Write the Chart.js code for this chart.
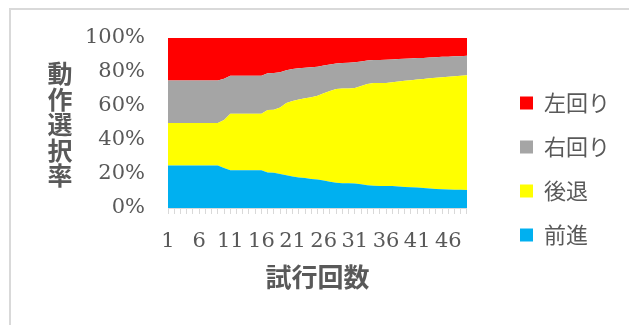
<!DOCTYPE html>
<html>
<head>
<meta charset="utf-8">
<script src="https://cdn.jsdelivr.net/npm/chart.js@4.4.1/dist/chart.umd.min.js"></script>
<style>
  html, body { margin: 0; padding: 0; background: #ffffff; }
  body { width: 629px; height: 325px; position: relative; overflow: hidden; }
  #frame { position: absolute; left: 9px; top: 8px; width: 700px; height: 400px;
           border-left: 2px solid #d9d9d9; border-top: 2px solid #d9d9d9; }
  #wrap { position: absolute; left: 0; top: 0; width: 629px; height: 325px; }
  #ytitle { position: absolute; left: 47px; top: 61px; writing-mode: vertical-rl;
            text-orientation: upright; font-family: 'Noto Sans CJK JP', sans-serif;
            font-weight: bold; font-size: 25px; line-height: 26px; letter-spacing: 0.5px;
            color: #595959; }
</style>
</head>
<body>
<div id="frame"></div>
<div id="wrap"><canvas id="chart" width="629" height="325"></canvas></div>
<div id="ytitle">動作選択率</div>
<script>
// 試行回数 (categories)
const trials = ['1','2','3','4','5','6','7','8','9','10','11','12','13','14','15','16','17','18','19','20',
  '21','22','23','24','25','26','27','28','29','30','31','32','33','34','35','36','37','38','39','40',
  '41','42','43','44','45','46','47','48','49'];

// axis labels shown under the category axis
const shownTrials = ['1','6','11','16','21','26','31','36','41','46'];
const percentTicks = [0, 20, 40, 60, 80, 100];

// selection rate of each action per trial (%)
const forward = [25,25,25,25,25,25,25,25,25,23.6,22.2,22.2,22.2,22.2,22.2,22.2,20.9,20.8,20.0,19.2,
  18.6,18.0,17.6,17.1,16.7,16.2,15.4,14.8,14.6,14.6,14.4,13.9,13.4,13.1,13.0,13.0,12.9,12.6,12.4,12.2,
  12.0,11.7,11.5,11.2,11.0,10.9,10.8,10.7,10.6];
const backward = [25,25,25,25,25,25,25,25,25,28.2,33.3,33.3,33.3,33.3,33.3,33.3,36.8,37.0,39.1,42.5,
  44.4,45.8,46.9,48.0,49.3,51.3,53.4,55.2,55.7,55.7,56.2,57.9,59.6,60.4,60.5,60.6,61.0,61.8,62.5,63.0,
  63.6,64.2,64.8,65.4,65.9,66.3,66.7,67.1,67.5];
const turnRight = [25,25,25,25,25,25,25,25,25,24.3,22.3,22.3,22.3,22.3,22.3,22.3,21.6,21.6,20.8,19.3,
  18.8,18.4,18.0,17.7,17.1,16.3,15.6,15.0,15.0,15.2,15.1,14.4,13.8,13.5,13.6,13.6,13.5,13.2,12.9,12.8,
  12.6,12.4,12.2,12.1,12.0,11.8,11.7,11.5,11.4];
const turnLeft = [25,25,25,25,25,25,25,25,25,23.9,22.2,22.2,22.2,22.2,22.2,22.2,20.7,20.6,20.1,19.0,
  18.2,17.8,17.5,17.2,16.9,16.2,15.6,15.0,14.7,14.5,14.3,13.8,13.2,13.0,12.9,12.8,12.6,12.4,12.2,12.0,
  11.8,11.7,11.5,11.3,11.1,11.0,10.8,10.7,10.5];

// 100% stacking: each column is scaled to its own total
const totals = trials.map((_, i) => forward[i] + backward[i] + turnRight[i] + turnLeft[i]);
const share = arr => arr.map((v, i) => v / totals[i] * 100);

const serif = 'DejaVu Serif';
const cjk = 'Noto Sans CJK JP';
const textColor = '#595959';

function area(label, values, color, fill) {
  return {
    label: label,
    data: share(values),
    backgroundColor: color,
    borderColor: color,
    borderWidth: 0,
    pointRadius: 0,
    pointHoverRadius: 0,
    tension: 0,
    fill: fill
  };
}

new Chart(document.getElementById('chart'), {
  type: 'line',
  data: {
    labels: trials,
    datasets: [
      area('前進', forward, '#00B0F0', 'origin'),
      area('後退', backward, '#FFFF00', '-1'),
      area('右回り', turnRight, '#A5A5A5', '-1'),
      area('左回り', turnLeft, '#FF0000', '-1')
    ]
  },
  options: {
    responsive: false,
    animation: false,
    devicePixelRatio: 1,
    layout: { padding: { left: 80, top: 38, right: 9, bottom: 25 } },
    plugins: {
      tooltip: { enabled: false },
      legend: {
        position: 'right',
        reverse: true,
        maxWidth: 140,
        labels: {
          boxWidth: 13,
          boxHeight: 13,
          padding: 22,
          color: textColor,
          font: { family: cjk, size: 22 }
        }
      }
    },
    scales: {
      x: {
        type: 'category',
        offset: false,
        grid: { display: true, drawOnChartArea: false, drawTicks: true, tickLength: 6, color: '#d9d9d9' },
        border: { display: true, color: '#d9d9d9' },
        ticks: {
          autoSkip: false,
          maxRotation: 0,
          minRotation: 0,
          padding: 15,
          color: textColor,
          font: { family: serif, size: 21 },
          callback: function (value) {
            const lab = this.getLabelForValue(value);
            return shownTrials.includes(lab) ? lab : '';
          }
        },
        title: {
          display: true,
          text: '試行回数',
          color: textColor,
          font: { family: cjk, size: 26, weight: 'bold' },
          padding: { top: 0, bottom: 7 }
        },
        afterFit: function (axis) { axis.height = 92; }
      },
      y: {
        stacked: true,
        min: 0,
        max: 100,
        grid: { display: false, drawTicks: false },
        border: { display: false },
        afterBuildTicks: function (axis) { axis.ticks = percentTicks.map(v => ({ value: v })); },
        ticks: {
          padding: 23,
          color: textColor,
          font: { family: serif, size: 21 },
          callback: v => v + '%'
        },
        afterFit: function (axis) { axis.width = 88; }
      },
      gap: {
        type: 'linear',
        position: 'right',
        display: true,
        grid: { display: false },
        border: { display: false },
        ticks: { display: false },
        afterFit: function (axis) { axis.width = 31; }
      }
    }
  }
});
</script>
</body>
</html>
